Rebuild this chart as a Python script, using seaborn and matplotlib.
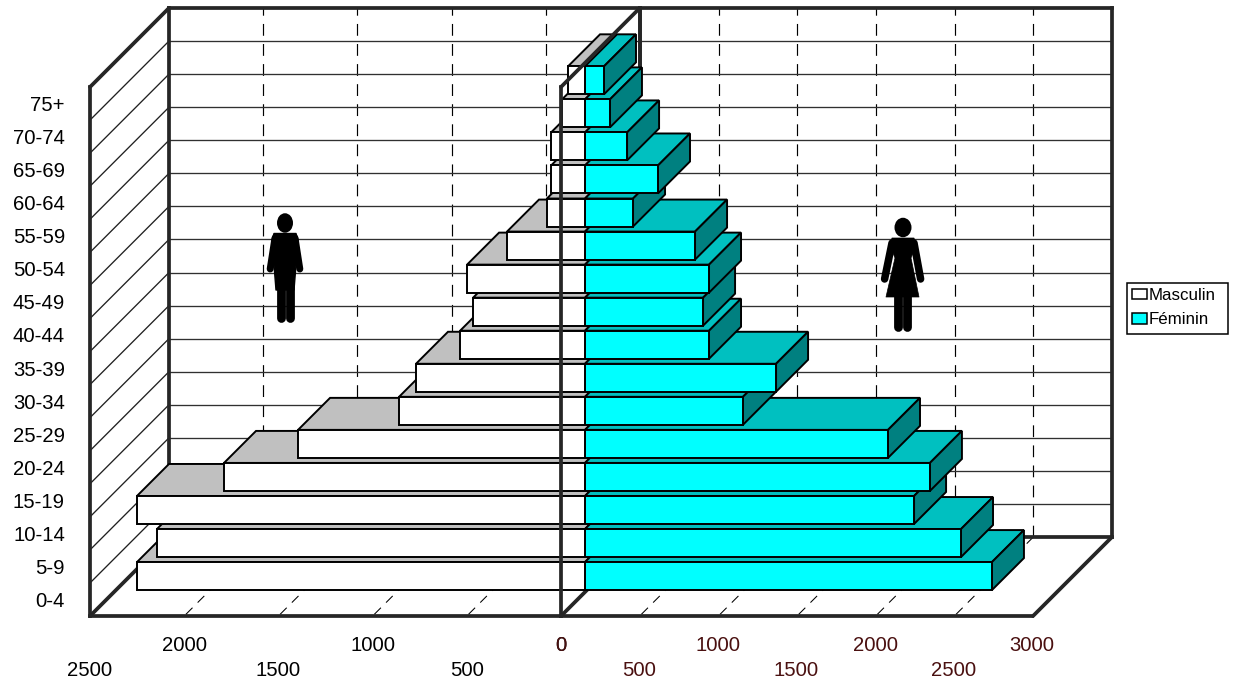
import matplotlib
matplotlib.use("Agg")
import matplotlib.pyplot as plt
from matplotlib.patches import Polygon, Patch, Ellipse, Rectangle
import numpy as np
import pandas as pd
import seaborn as sns

ages = ["0-4", "5-9", "10-14", "15-19", "20-24", "25-29", "30-34", "35-39",
        "40-44", "45-49", "50-54", "55-59", "60-64", "65-69", "70-74", "75+"]
masculin = [2378, 2272, 2378, 1916, 1523, 987, 897, 663,
            594, 626, 414, 202, 180, 180, 122, 90]
feminin = [2592, 2395, 2096, 2197, 1930, 1006, 1217, 790,
           752, 790, 701, 306, 465, 268, 159, 121]
left_ticks = [2500, 2000, 1500, 1000, 500, 0]
right_ticks = [0, 500, 1000, 1500, 2000, 2500, 3000]

W, H = 1233, 683
sns.set_theme(style="white")
plt.rcParams["font.family"] = ["Liberation Sans", "DejaVu Sans"]
fig = plt.figure(figsize=(W / 100, H / 100), dpi=100)
fig.patch.set_facecolor("white")

FRAME = "#262626"
THICK = 2.7
THIN = 0.95
EDGE = 1.4
MAROON = "#4a1010"
ROW = 33.05
FS = 14.6


def add_axes(x0, y0, x1, y1, z):
    ax = fig.add_axes([x0 / W, 1 - y1 / H, (x1 - x0) / W, (y1 - y0) / H], zorder=z)
    ax.patch.set_visible(False)
    return ax


# ---- back wall (two scales share the same plane) ----
wall_l = add_axes(169, 8, 640, 537, 1)
wall_r = add_axes(640, 8, 1112, 537, 1)
wall_l.set_xlim(2500, 0)
wall_r.set_xlim(0, 3000)
DEPTH = 79.0
DY = DEPTH / ROW
dxl = DEPTH * 2500 / 471
dxr = DEPTH * 3000 / 472
for ax, ticks in ((wall_l, left_ticks[1:-1]), (wall_r, right_ticks[1:-1])):
    ax.set_ylim(0, 16)
    ax.set_xticks(ticks)
    ax.set_yticks(range(1, 16))
    ax.tick_params(length=0, labelbottom=False, labelleft=False)
    ax.grid(False)
    for v in ticks:
        ax.axvline(v, color="black", lw=0.85, ls=(0, (10, 7)), zorder=1)
    for k in range(1, 16):
        ax.axhline(k, color="#303030", lw=THIN, zorder=1)
    for s in ax.spines.values():
        s.set_linewidth(THICK)
        s.set_color(FRAME)
wall_l.spines["right"].set_bounds(16 - 1.9, 16)
wall_r.spines["left"].set_bounds(16 - 1.9, 16)

# left wall hatching and floor edges (clip off, in wall data units)
for k in range(1, 16):
    wall_l.plot([2500, 2500 + dxl], [k, k - DY], color="#202020", lw=THIN, clip_on=False)
wall_l.plot([2500, 2500 + dxl], [16, 16 - DY], color=FRAME, lw=THICK, clip_on=False)
wall_l.plot([2500, 2500 + dxl], [0, -DY], color=FRAME, lw=THICK, clip_on=False)
wall_l.plot([0, dxl], [0, -DY], color=FRAME, lw=THICK, clip_on=False)
wall_r.plot([3000, 3000 - dxr], [0, -DY], color=FRAME, lw=THICK, clip_on=False)
for v in left_ticks[1:-1]:
    wall_l.plot([v, v + dxl], [0, -DY], color="black", lw=0.75, ls=(0, (9, 7)), clip_on=False)
for v in right_ticks[1:-1]:
    wall_r.plot([v, v - dxr], [0, -DY], color="black", lw=0.75, ls=(0, (9, 7)), clip_on=False)

# ---- bars ----
order = ages[::-1]
bar_w = 28 / ROW
BAR_DEPTH = 32.0


def bars(ax, values, xlim, front, top, side):
    df = pd.DataFrame({"age": ages, "value": values})
    sns.barplot(data=df, x="value", y="age", order=order, orient="h", ax=ax,
                color=front, saturation=1, width=bar_w,
                edgecolor="black", linewidth=EDGE)
    ax.set_xlim(*xlim)
    ax.set_ylim(15.5, -0.5)
    ax.axis("off")
    sx = (xlim[1] - xlim[0]) / 471.0
    dx = BAR_DEPTH * sx
    dy = BAR_DEPTH / ROW
    for i, rect in enumerate(ax.patches[:]):
        z = 40 - i
        v = rect.get_x() + rect.get_width() if abs(rect.get_x()) < 1e-6 else rect.get_x()
        yt = rect.get_y()
        yb = yt + rect.get_height()
        rect.set_zorder(z + 0.5)
        ax.add_patch(Polygon([(v, yt), (0, yt), (dx, yt - dy), (v + dx, yt - dy)],
                             fc=top, ec="black", lw=EDGE, clip_on=False, zorder=z))
        if side is not None:
            ax.add_patch(Polygon([(v, yt), (v + dx, yt - dy), (v + dx, yb - dy), (v, yb)],
                                 fc=side, ec="black", lw=EDGE, clip_on=False, zorder=z))


ax_m = add_axes(114, 63.8, 585, 592.6, 3)
ax_f = add_axes(585, 63.8, 1056, 592.6, 4)
bars(ax_m, masculin, (2500, 0), "#FFFFFF", "#C0C0C0", None)
bars(ax_f, feminin, (0, 3000), "#00FFFF", "#00C0C0", "#008080")

# ---- front plane: axes, labels ----
fg_l = add_axes(90, 87, 561, 616, 6)
fg_r = add_axes(561, 87, 1032, 616, 6)
fg_l.set_xlim(2500, 0)
fg_r.set_xlim(0, 3000)
for ax in (fg_l, fg_r):
    ax.set_ylim(-0.5, 15.5)
    for s in ax.spines.values():
        s.set_visible(False)
    ax.spines["bottom"].set_visible(True)
    ax.spines["bottom"].set_linewidth(THICK)
    ax.spines["bottom"].set_color(FRAME)
    ax.grid(False)
fg_l.spines["left"].set_visible(True)
fg_l.spines["right"].set_visible(True)
for n in ("left", "right"):
    fg_l.spines[n].set_linewidth(THICK)
    fg_l.spines[n].set_color(FRAME)

fg_l.set_yticks(range(len(ages)))
fg_l.set_yticklabels(ages, fontsize=FS, color="black")
fg_l.tick_params(axis="y", length=0, pad=18)
fg_r.set_yticks([])

fg_l.set_xticks(left_ticks)
fg_l.set_xticklabels([str(t) for t in left_ticks], fontsize=FS, color="black")
fg_r.set_xticks(right_ticks)
fg_r.set_xticklabels([str(t) for t in right_ticks], fontsize=FS, color=MAROON)
for ax in (fg_l, fg_r):
    ax.tick_params(axis="x", length=0)
    for tick, v in zip(ax.xaxis.get_major_ticks(), ax.get_xticks()):
        tick.set_pad(32.3 if int(v) % 1000 else 14.3)

fg_r.plot([0, dxr], [15.5, 15.5 + DY], color=FRAME, lw=THICK, clip_on=False)

# ---- pictograms (pixel coordinates) ----
deco = add_axes(0, 0, W, H, 2)
deco.set_xlim(0, W)
deco.set_ylim(H, 0)
deco.axis("off")


def limb(x0, y0, x1, y1, w):
    deco.plot([x0, x1], [y0, y1], color="black", lw=w * 0.72, solid_capstyle="round")


# man
deco.add_patch(Ellipse((285, 223), 16, 19.5, fc="black", ec="none"))
deco.add_patch(Polygon([(274, 233.5), (296, 233.5), (298, 240), (294, 290), (276, 290), (272, 240)],
                       fc="black", ec="black", lw=1, joinstyle="round"))
limb(275, 238, 270.2, 269, 7)
limb(295, 238, 299.8, 269, 7)
limb(280.6, 285, 280.6, 318, 8.8)
limb(289.6, 285, 289.6, 318, 8.8)
# woman
deco.add_patch(Ellipse((903, 227.5), 17, 19.5, fc="black", ec="none"))
deco.add_patch(Polygon([(892, 238), (914, 238), (916, 245), (911, 258), (919, 297), (886, 297),
                        (895, 258), (890, 245)],
                       fc="black", ec="black", lw=0.5, joinstyle="round"))
limb(892, 243, 884.6, 279, 7.5)
limb(914, 243, 920.6, 279, 7.5)
limb(897.6, 295, 897.6, 327, 8.8)
limb(907.4, 295, 907.4, 327, 8.8)

# ---- legend ----
handles = [Patch(fc="white", ec="black", lw=1.1, label="Masculin"),
           Patch(fc="#00FFFF", ec="black", lw=1.1, label="Féminin")]
fig.add_artist(Rectangle((1127 / W, 1 - 334 / H), 101 / W, 51 / H, transform=fig.transFigure,
                         fc="white", ec="black", lw=1.1, zorder=8))
leg = fig.legend(handles=handles, loc="upper left",
                 bbox_to_anchor=(1132 / W, 1 - 288 / H), bbox_transform=fig.transFigure,
                 fontsize=12.2, frameon=False, borderaxespad=0, borderpad=0,
                 handlelength=0.88, handleheight=0.6, handletextpad=0.1,
                 labelspacing=0.55, labelcolor="black")
leg.set_zorder(9)

fig.savefig("out.png", dpi=100)
